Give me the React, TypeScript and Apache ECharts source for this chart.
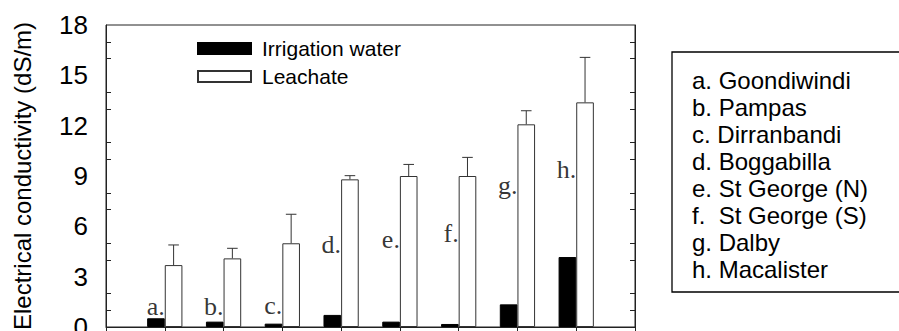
import React, { useEffect, useRef } from "react";
import * as echarts from "echarts";

const categories = ["", "a", "b", "c", "d", "e", "f", "g", "h", ""];
const letters = ["a.", "b.", "c.", "d.", "e.", "f.", "g.", "h."];
const sites = [
  "a. Goondiwindi",
  "b. Pampas",
  "c. Dirranbandi",
  "d. Boggabilla",
  "e. St George (N)",
  "f.  St George (S)",
  "g. Dalby",
  "h. Macalister",
];
const irrigation = [0.52, 0.32, 0.2, 0.72, 0.32, 0.18, 1.35, 4.17];
const leachate = [3.69, 4.09, 4.99, 8.8, 9.0, 9.0, 12.08, 13.39];
const leachateErr = [1.2, 0.6, 1.73, 0.22, 0.69, 1.11, 0.81, 2.68];
const letterY = [1.2, 1.2, 1.3, 4.9, 5.2, 5.55, 8.45, 9.4];
const yTicks = { min: 0, max: 18, interval: 3 };

const SANS = '"Liberation Sans", Arial, sans-serif';
const SERIF = '"Liberation Serif", "Times New Roman", serif';

export default function App() {
  const ref = useRef<HTMLDivElement>(null);
  useEffect(() => {
    if (!ref.current) return;
    const chart = echarts.init(ref.current, null, { renderer: "svg" });
    const pad = (arr: number[]) => ["-", ...arr, "-"];
    const yAxisBase = {
      type: "value",
      min: yTicks.min,
      max: yTicks.max,
      interval: yTicks.interval,
      splitLine: { show: false },
      axisLine: { show: true, lineStyle: { color: "#222", width: 1 } },
      axisTick: { show: false, inside: true },
      minorTick: { show: true, splitNumber: 3, length: 5, lineStyle: { color: "#222", width: 1 } },
      minorSplitLine: { show: false },
    };
    chart.setOption({
      animation: false,
      grid: {
        left: 106,
        top: 25,
        right: 264,
        bottom: 4,
        containLabel: false,
        outerBoundsMode: "none",
        show: true,
        borderColor: "#222",
        borderWidth: 1,
        backgroundColor: "transparent",
      },
      legend: {
        orient: "vertical",
        left: 192,
        top: 33,
        itemWidth: 53,
        itemHeight: 11,
        itemGap: 7,
        icon: "rect",
        textStyle: { fontFamily: SANS, fontSize: 21, color: "#000", padding: [0, 0, 0, 6] },
        data: ["Irrigation water", "Leachate"],
      },
      xAxis: {
        type: "category",
        data: categories,
        boundaryGap: false,
        axisLine: { show: true, lineStyle: { color: "#222", width: 1 } },
        axisTick: { show: true, inside: false, length: 6, lineStyle: { color: "#222" } },
        axisLabel: { show: false },
        splitLine: { show: false },
      },
      yAxis: [
        {
          ...yAxisBase,
          position: "left",
          name: "Electrical conductivity (dS/m)",
          nameLocation: "middle",
          nameGap: 72,
          nameTextStyle: { fontFamily: SANS, fontSize: 24, color: "#000" },
          axisLabel: { show: true, fontFamily: SANS, fontSize: 26, color: "#000", margin: 18 },
        },
        {
          ...yAxisBase,
          position: "right",
          axisLabel: { show: false },
        },
      ],
      series: [
        {
          name: "Irrigation water",
          type: "bar",
          data: pad(irrigation),
          barWidth: "30%",
          barGap: "0%",
          itemStyle: { color: "#000", borderColor: "#000", borderWidth: 1 },
        },
        {
          name: "Leachate",
          type: "bar",
          data: pad(leachate),
          barWidth: "30%",
          barGap: "0%",
          itemStyle: { color: "#fff", borderColor: "#333", borderWidth: 1 },
        },
        {
          name: "err",
          type: "custom",
          data: leachate.map((v, i) => [i + 1, v, leachateErr[i]]),
          encode: { x: 0, y: 1 },
          z: 5,
          renderItem: (params: any, api: any) => {
            const idx = api.value(0);
            const val = api.value(1);
            const err = api.value(2);
            const base = api.coord([idx, val]);
            const top = api.coord([idx, val + err]);
            const bw = api.size([1, 0])[0] * 0.3;
            const x = base[0] + bw / 2;
            const cap = 5.3;
            const st = { stroke: "#333", lineWidth: 1 };
            return {
              type: "group",
              children: [
                { type: "line", shape: { x1: x, y1: base[1], x2: x, y2: top[1] }, style: st },
                { type: "line", shape: { x1: x - cap, y1: top[1], x2: x + cap, y2: top[1] }, style: st },
              ],
            };
          },
        },
        {
          name: "letters",
          type: "scatter",
          data: letterY.map((v, i) => [i + 1, v]),
          symbolSize: 0,
          z: 6,
          label: {
            show: true,
            position: "left",
            distance: 0,
            fontFamily: SERIF,
            fontSize: 26,
            color: "#000",
            formatter: (p: any) => letters[p.dataIndex],
          },
        },
      ],
      graphic: [
        {
          type: "rect",
          shape: { x: 672, y: 52, width: 240, height: 240 },
          style: { fill: "#fff", stroke: "#000", lineWidth: 1.3 },
          z: 10,
        },
        ...sites.map((s, i) => ({
          type: "text",
          x: 692,
          y: 80 + i * 27.1,
          z: 11,
          style: {
            text: s,
            font: `24px ${SANS}`,
            fill: "#000",
            verticalAlign: "middle",
            align: "left",
          },
        })),
      ],
    });
    return () => chart.dispose();
  }, []);
  return (
    <div
      ref={ref}
      style={{ position: "fixed", left: 0, top: 0, width: 899, height: 331, background: "#fff" }}
    />
  );
}
